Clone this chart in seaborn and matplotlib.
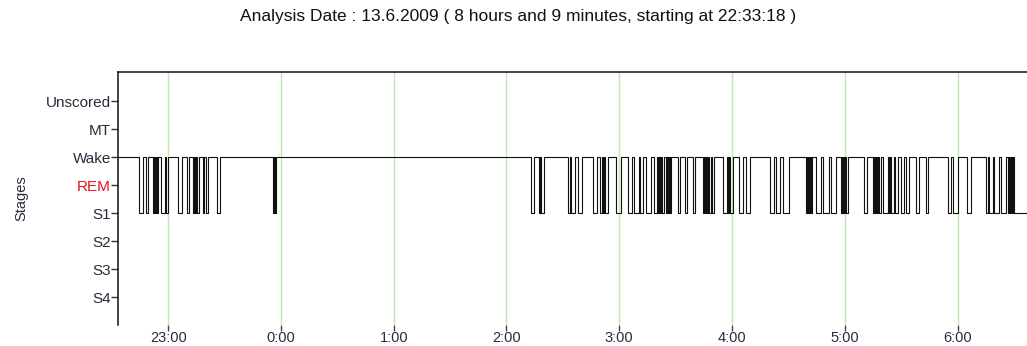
import numpy as np
import pandas as pd
import matplotlib
matplotlib.use("Agg")
import matplotlib.pyplot as plt
import seaborn as sns

# ---------------- data ----------------
title_text = "Analysis Date : 13.6.2009 ( 8 hours and 9 minutes, starting at 22:33:18 )"
start_clock = "22:33:18"
duration_min = 489.0
stage_names = ["S4", "S3", "S2", "S1", "REM", "Wake", "MT", "Unscored"]
hour_labels = ["23:00", "0:00", "1:00", "2:00", "3:00", "4:00", "5:00", "6:00"]

# S1 episodes (minutes after recording start); the rest of the night is Wake
s1_start = [11.0, 15.0, 18.5, 19.5, 20.5, 23.0, 25.5, 32.0, 36.5, 40.0, 41.0, 42.0,
            45.0, 47.0, 52.5, 82.5, 83.5,
            220.0, 224.0, 225.0, 239.5, 241.0, 245.0, 253.0, 256.5, 258.0, 259.0,
            265.0, 271.5, 274.5, 278.0, 281.0, 285.0, 287.5, 288.5, 289.5, 291.5,
            292.5, 293.5, 298.0, 301.5, 306.0, 311.5, 312.5, 313.5, 314.5, 316.0,
            322.0, 324.5, 325.5, 330.5, 334.0, 347.0, 350.0, 354.0, 366.0, 367.0,
            368.0, 369.0, 371.5, 375.0, 379.5, 384.5, 385.5, 386.5, 387.5, 397.0,
            402.0, 403.0, 404.0, 405.0, 407.0, 410.0, 411.5, 413.5, 416.5, 419.5,
            424.5, 430.0, 441.5, 444.5, 451.5, 462.0, 463.5, 466.0, 470.0, 473.5,
            474.5, 475.5, 476.5]
s1_end = [13.5, 16.0, 19.0, 20.0, 21.5, 25.0, 26.5, 34.0, 38.0, 40.5, 41.5, 43.0,
          46.0, 48.0, 54.5, 83.0, 84.0,
          221.5, 224.5, 226.5, 240.5, 243.0, 247.0, 255.0, 257.5, 258.5, 260.5,
          267.5, 273.5, 277.0, 279.5, 283.5, 287.0, 288.0, 289.0, 290.5, 292.0,
          293.0, 294.0, 299.0, 303.0, 307.0, 312.0, 313.0, 314.0, 315.5, 317.0,
          324.0, 325.0, 327.5, 332.5, 336.5, 349.0, 352.0, 357.0, 366.5, 367.5,
          368.5, 369.5, 374.0, 378.5, 382.0, 385.0, 386.0, 387.0, 388.5, 398.5,
          402.5, 403.5, 404.5, 406.0, 409.5, 411.0, 413.0, 415.0, 418.0, 421.0,
          426.0, 431.0, 443.5, 447.0, 454.0, 463.0, 465.5, 469.0, 472.5, 474.0,
          475.0, 476.0, 489.0]

# ---------------- build step path ----------------
WAKE = stage_names.index("Wake")
S1 = stage_names.index("S1")
xs, ys = [0.0], [WAKE]
for s, e in zip(s1_start, s1_end):
    xs += [s, s]
    ys += [WAKE, S1]
    xs += [e, e]
    ys += [S1, WAKE if e < duration_min else S1]
if xs[-1] < duration_min:
    xs.append(duration_min)
    ys.append(ys[-1])
df = pd.DataFrame({"t": xs, "stage": ys})

h, m, s = (int(v) for v in start_clock.split(":"))
start_h = h + m / 60 + s / 3600
first_hour = np.ceil(start_h)
tick_pos = [(first_hour + i - start_h) * 60 for i in range(len(hour_labels))]

# ---------------- plot ----------------
sns.set_theme(style="white")
plt.rcParams["font.family"] = ["Liberation Sans", "DejaVu Sans"]

fig = plt.figure(figsize=(10.27, 3.46), dpi=100)
ax = fig.add_axes([118 / 1027, 1 - 325 / 346, (1037 - 118) / 1027, (325 - 72) / 346])

for xp in tick_pos:
    ax.axvline(xp, color="#bfe8b6", lw=1.0, zorder=0)

sns.lineplot(data=df, x="t", y="stage", sort=False, estimator=None,
             color="#111111", lw=0.8, ax=ax, legend=False)

ax.set_xlim(0, duration_min)
ax.set_ylim(-1, 8.04)
ax.set_yticks(range(len(stage_names)))
ax.set_yticklabels(stage_names, fontsize=11, color="#2a2a3a")
for lab in ax.get_yticklabels():
    if lab.get_text() == "REM":
        lab.set_color("#e8101a")
ax.set_xticks(tick_pos)
ax.set_xticklabels(hour_labels, fontsize=10.5, color="#2a2a3a")
ax.tick_params(axis="y", which="major", left=True, length=5, width=1, color="#333333", pad=0)
ax.tick_params(axis="x", which="major", bottom=True, length=4, width=1, color="#444444", pad=0.5,
               direction="out")
ax.set_xlabel("")
ax.set_ylabel("Stages", fontsize=10.5, color="#2a2a3a")
ax.yaxis.set_label_coords(-0.098, 0.50)

for side in ["bottom", "right"]:
    ax.spines[side].set_visible(False)
for side in ["left", "top"]:
    ax.spines[side].set_visible(True)
    ax.spines[side].set_color("#111111")
    ax.spines[side].set_linewidth(1.1)
ax.grid(False)

fig.text(518 / 1027, 1 - 17 / 346, title_text, ha="center", va="center",
         fontsize=12.5, color="#111111")

fig.savefig("out.png", dpi=100)
